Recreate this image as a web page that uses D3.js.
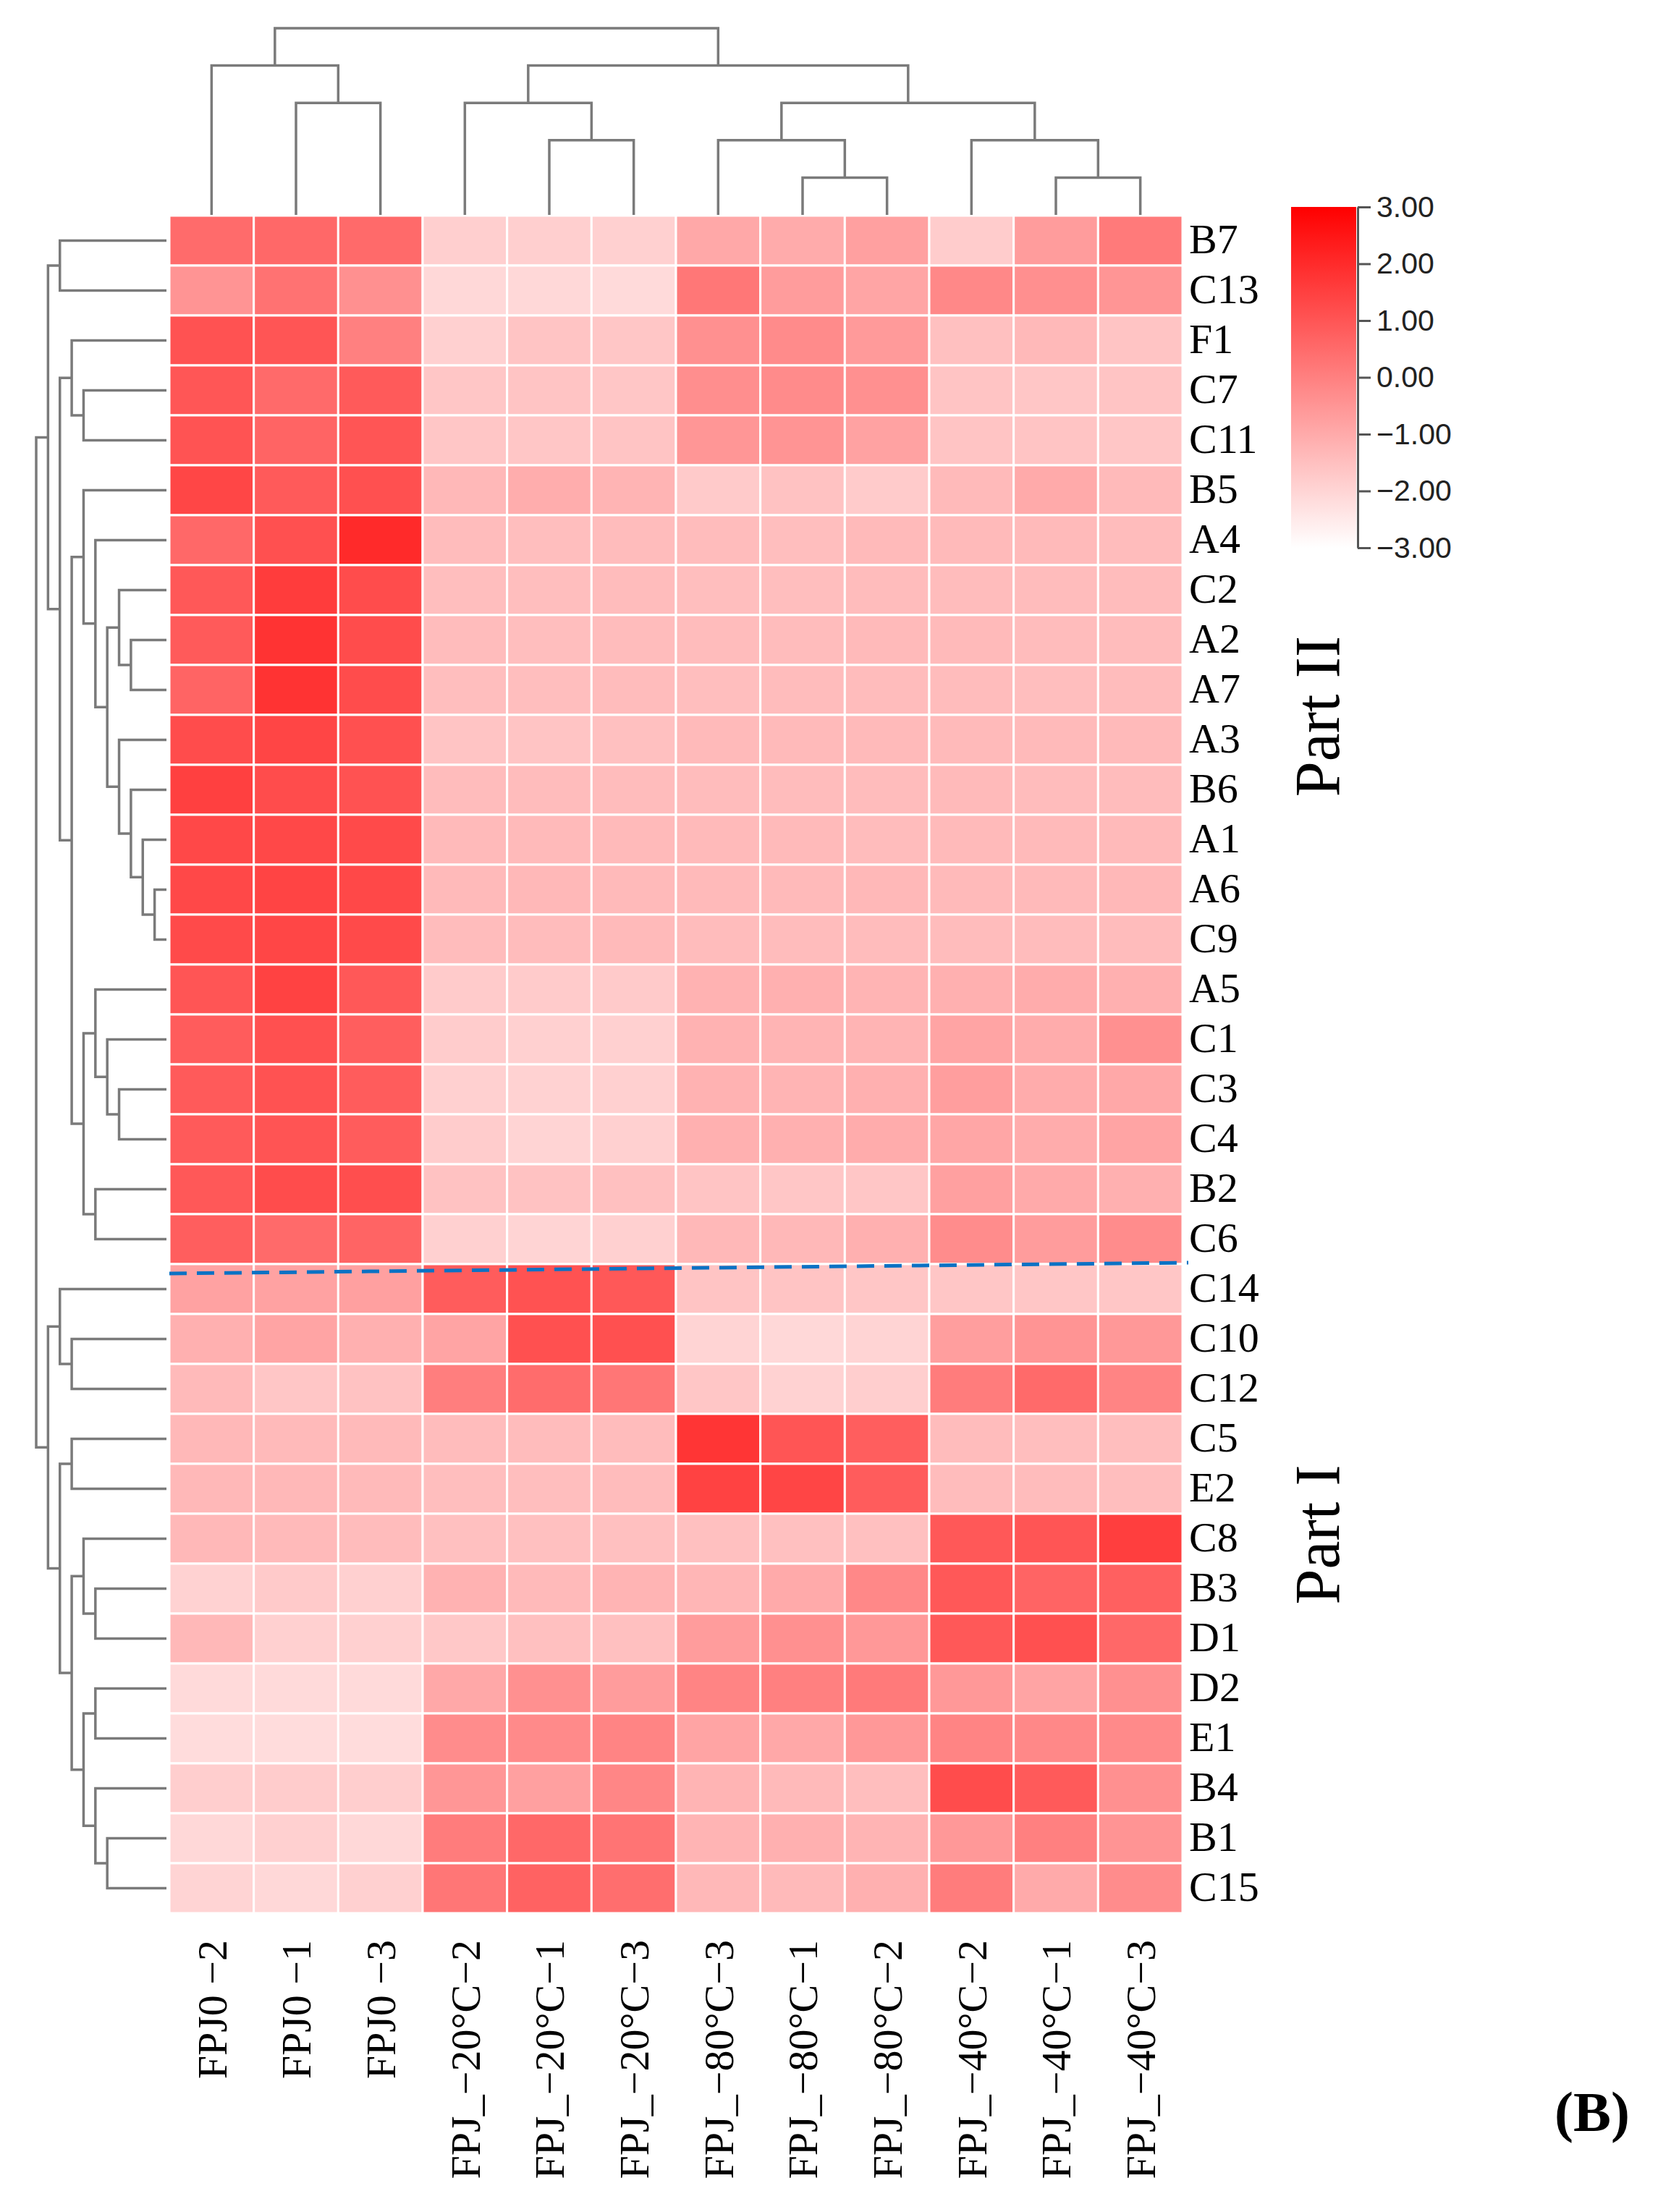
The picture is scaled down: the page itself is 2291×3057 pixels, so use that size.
<!DOCTYPE html>
<html lang="en">

<head>
    <meta charset="UTF-8">
    <title>Clustered heatmap</title>
    <script src="https://d3js.org/d3.v7.min.js"></script>
    <style>
        body { margin: 0; background: #fff; }
        text { font-family: "Liberation Serif", "Times New Roman", serif; }
    </style>
</head>

<body>
    <svg id="heatmap" width="2291" height="3057"></svg>

    <script>
        // Row and column names (in display order)
        const rowNames = ["B7", "C13", "F1", "C7", "C11", "B5", "A4", "C2", "A2", "A7", "A3", "B6", "A1", "A6", "C9",
            "A5", "C1", "C3", "C4", "B2", "C6", "C14", "C10", "C12", "C5", "E2", "C8", "B3", "D1", "D2", "E1", "B4", "B1", "C15"];
        const colNames = ["FPJ0 −2", "FPJ0 −1", "FPJ0 −3", "FPJ_−20°C−2", "FPJ_−20°C−1", "FPJ_−20°C−3",
            "FPJ_−80°C−3", "FPJ_−80°C−1", "FPJ_−80°C−2", "FPJ_−40°C−2", "FPJ_−40°C−1", "FPJ_−40°C−3"];

        // Scaled values, one array per row
        const values = [
            [0.48, 0.55, 0.5, -1.87, -1.87, -1.9, -0.95, -1.02, -0.76, -1.8, -0.67, 0.13],
            [-0.48, 0.31, -0.39, -2.08, -2.08, -2.13, 0.2, -0.67, -0.88, -0.2, -0.37, -0.5],
            [1.07, 1.0, 0.0, -1.9, -1.6, -1.66, -0.39, -0.27, -0.62, -1.52, -1.35, -1.6],
            [0.98, 0.5, 0.88, -1.66, -1.6, -1.66, -0.35, -0.27, -0.39, -1.6, -1.66, -1.6],
            [1.05, 0.64, 1.0, -1.66, -1.66, -1.6, -0.53, -0.48, -0.81, -1.6, -1.6, -1.66],
            [1.35, 0.88, 1.12, -1.33, -1.07, -1.24, -1.76, -1.57, -1.78, -1.38, -1.0, -1.38],
            [0.55, 1.12, 2.01, -1.42, -1.47, -1.42, -1.42, -1.47, -1.38, -1.38, -1.38, -1.42],
            [0.93, 1.59, 1.21, -1.47, -1.47, -1.42, -1.47, -1.47, -1.42, -1.42, -1.42, -1.42],
            [0.88, 1.8, 1.21, -1.42, -1.47, -1.42, -1.42, -1.42, -1.38, -1.38, -1.42, -1.42],
            [0.64, 1.8, 1.21, -1.47, -1.47, -1.42, -1.47, -1.42, -1.42, -1.42, -1.47, -1.42],
            [1.21, 1.38, 1.12, -1.6, -1.6, -1.52, -1.38, -1.38, -1.38, -1.38, -1.38, -1.38],
            [1.49, 1.21, 1.07, -1.42, -1.42, -1.42, -1.42, -1.42, -1.42, -1.38, -1.42, -1.42],
            [1.31, 1.31, 1.26, -1.38, -1.38, -1.38, -1.38, -1.38, -1.42, -1.38, -1.38, -1.38],
            [1.31, 1.4, 1.31, -1.38, -1.33, -1.38, -1.38, -1.38, -1.33, -1.38, -1.38, -1.33],
            [1.26, 1.35, 1.26, -1.42, -1.42, -1.38, -1.42, -1.42, -1.42, -1.42, -1.42, -1.42],
            [1.0, 1.45, 0.93, -1.78, -1.78, -1.76, -1.19, -1.14, -1.24, -1.14, -1.05, -1.14],
            [0.83, 1.12, 0.79, -1.8, -1.9, -1.9, -1.19, -1.24, -1.24, -0.86, -1.05, -0.39],
            [0.88, 1.07, 0.83, -1.9, -1.94, -1.9, -1.19, -1.24, -1.14, -0.72, -1.05, -0.95],
            [0.88, 1.02, 0.83, -1.8, -1.99, -1.9, -1.14, -1.14, -1.05, -0.9, -1.05, -0.86],
            [0.93, 1.21, 1.16, -1.57, -1.57, -1.52, -1.6, -1.66, -1.66, -0.76, -1.0, -1.14],
            [0.79, 0.5, 0.64, -1.9, -1.99, -1.9, -1.33, -1.33, -1.14, -0.29, -0.67, -0.29],
            [-0.81, -0.81, -0.76, 0.83, 1.07, 0.93, -1.6, -1.6, -1.66, -1.66, -1.66, -1.66],
            [-1.14, -0.86, -1.14, -0.86, 1.12, 1.12, -1.99, -2.08, -1.99, -0.72, -0.48, -0.58],
            [-1.38, -1.66, -1.57, 0.03, 0.46, 0.22, -1.66, -1.94, -1.85, 0.08, 0.5, -0.1],
            [-1.33, -1.38, -1.38, -1.42, -1.42, -1.42, 1.75, 1.0, 0.79, -1.42, -1.47, -1.47],
            [-1.33, -1.33, -1.38, -1.47, -1.47, -1.42, 1.45, 1.38, 0.83, -1.42, -1.42, -1.47],
            [-1.33, -1.38, -1.42, -1.52, -1.52, -1.52, -1.52, -1.52, -1.52, 0.93, 1.0, 1.54],
            [-1.94, -1.76, -1.89, -1.19, -1.38, -1.24, -1.28, -1.0, -0.2, 0.93, 0.64, 0.74],
            [-1.33, -1.89, -1.89, -1.71, -1.52, -1.52, -0.67, -0.39, -0.58, 0.93, 1.12, 0.55],
            [-2.13, -2.13, -2.13, -0.95, -0.39, -0.67, -0.1, 0.0, 0.13, -0.58, -0.86, -0.39],
            [-2.18, -2.18, -2.18, -0.29, -0.25, -0.1, -0.86, -0.95, -0.58, -0.1, -0.2, -0.25],
            [-1.85, -1.8, -1.85, -0.53, -0.76, -0.15, -1.24, -1.38, -1.47, 1.21, 0.88, -0.39],
            [-2.08, -1.89, -2.08, 0.08, 0.55, 0.27, -1.24, -1.14, -1.24, -0.58, 0.0, -0.48],
            [-1.99, -2.08, -1.89, 0.22, 0.69, 0.41, -1.33, -1.38, -1.14, 0.08, -1.0, -0.29]
        ];

        // Dendrograms as nested [height, left, right]; leaves are names
        const partTwoTree = [10, [9, "B7", "C13"],
            [9, [8, "F1", [7, "C7", "C11"]],
                [8, [7, "B5", [6, "A4", [5, [4, "C2", [3, "A2", "A7"]], [4, "A3", [3, "B6", [2, "A1", [1, "A6", "C9"]]]]]]],
                    [7, [6, "A5", [5, "C1", [4, "C3", "C4"]]], [6, "B2", "C6"]]]]];
        const partOneTree = [10, [9, "C14", [8, "C10", "C12"]],
            [9, [8, "C5", "E2"], [8, [7, "C8", [6, "B3", "D1"]], [7, [6, "D2", "E1"], [6, "B4", [5, "B1", "C15"]]]]]];
        const rowTree = [11, partTwoTree, partOneTree];
        const colTree = [5, [4, "FPJ0 −2", [3, "FPJ0 −1", "FPJ0 −3"]],
            [4, [3, "FPJ_−20°C−2", [2, "FPJ_−20°C−1", "FPJ_−20°C−3"]],
                [3, [2, "FPJ_−80°C−3", [1, "FPJ_−80°C−1", "FPJ_−80°C−2"]], [2, "FPJ_−40°C−2", [1, "FPJ_−40°C−1", "FPJ_−40°C−3"]]]]];

        // Colour bar ticks and group labels
        const legendTicks = [3, 2, 1, 0, -1, -2, -3];
        const partLabels = [{ text: "Part II", y: 990 }, { text: "Part I", y: 2121 }];

        const svg = d3.select("#heatmap");
        svg.append("rect").attr("width", 2291).attr("height", 3057).attr("fill", "#fff");

        // Scales
        const xScale = d3.scaleBand().domain(colNames).range([234, 1634]);
        const yScale = d3.scaleBand().domain(rowNames).range([298, 2644]);
        const color = d3.scaleLinear().domain([-3, 3]).range(["#ffffff", "#ff0000"]);
        const rowHeight = d3.scaleLinear().domain([0, 11]).range([230, 50]);
        const colHeight = d3.scaleLinear().domain([0, 5]).range([297, 39]);

        // Heatmap cells
        const cells = [];
        values.forEach((row, i) => row.forEach((v, j) => cells.push({ r: rowNames[i], c: colNames[j], v: v })));
        svg.append("g")
            .selectAll("rect")
            .data(cells)
            .join("rect")
            .attr("x", d => xScale(d.c))
            .attr("y", d => yScale(d.r))
            .attr("width", xScale.bandwidth())
            .attr("height", yScale.bandwidth())
            .attr("fill", d => color(d.v))
            .attr("stroke", "#fff")
            .attr("stroke-width", 3);

        // Build a hierarchy and work out leaf / node positions
        function layout(tree, band) {
            const root = d3.hierarchy(tree, d => Array.isArray(d) ? d.slice(1) : null);
            root.eachAfter(n => {
                if (n.children) {
                    n.h = n.data[0];
                    n.pos = d3.mean(n.children, c => c.pos);
                } else {
                    n.h = 0;
                    n.pos = band(n.data) + band.bandwidth() / 2;
                }
            });
            return root.descendants().filter(n => n.children);
        }

        // Row dendrogram (left)
        svg.append("g")
            .selectAll("path")
            .data(layout(rowTree, yScale))
            .join("path")
            .attr("fill", "none")
            .attr("stroke", "#7a7a7a")
            .attr("stroke-width", 3.5)
            .attr("d", n => {
                const [a, b] = n.children;
                return `M${rowHeight(a.h)},${a.pos}H${rowHeight(n.h)}V${b.pos}H${rowHeight(b.h)}`;
            });

        // Column dendrogram (top)
        svg.append("g")
            .selectAll("path")
            .data(layout(colTree, xScale))
            .join("path")
            .attr("fill", "none")
            .attr("stroke", "#7a7a7a")
            .attr("stroke-width", 3.5)
            .attr("d", n => {
                const [a, b] = n.children;
                return `M${a.pos},${colHeight(a.h)}V${colHeight(n.h)}H${b.pos}V${colHeight(b.h)}`;
            });

        // Row labels
        svg.append("g")
            .selectAll("text")
            .data(rowNames)
            .join("text")
            .attr("x", 1643)
            .attr("y", d => yScale(d) + yScale.bandwidth() / 2)
            .attr("dy", "0.3em")
            .style("font-size", "58px")
            .text(d => d);

        // Column labels (rotated)
        svg.append("g")
            .selectAll("text")
            .data(colNames)
            .join("text")
            .attr("transform", d => `translate(${xScale(d) + xScale.bandwidth() / 2},2681) rotate(-90)`)
            .attr("text-anchor", "end")
            .attr("dy", "0.35em")
            .style("font-size", "58px")
            .text(d => d);

        // Dashed separator between Part II and Part I
        const sepY = yScale("C14");
        svg.append("line")
            .attr("x1", xScale.range()[0])
            .attr("y1", sepY + 13)
            .attr("x2", xScale.range()[1] + 8)
            .attr("y2", sepY - 2)
            .attr("stroke", "#0b72c4")
            .attr("stroke-width", 5)
            .attr("stroke-dasharray", "24,14");

        // Part labels
        svg.append("g")
            .selectAll("text")
            .data(partLabels)
            .join("text")
            .attr("transform", d => `translate(1850,${d.y}) rotate(-90)`)
            .attr("text-anchor", "middle")
            .style("font-size", "88px")
            .text(d => d.text);

        // Colour bar
        const legendScale = d3.scaleLinear().domain([-3, 3]).range([757, 286]);
        const grad = svg.append("defs").append("linearGradient")
            .attr("id", "legend-grad")
            .attr("x1", 0).attr("y1", 1).attr("x2", 0).attr("y2", 0);
        grad.selectAll("stop")
            .data([-3, 0, 3])
            .join("stop")
            .attr("offset", d => (d + 3) / 6)
            .attr("stop-color", d => color(d));

        svg.append("rect")
            .attr("x", 1784)
            .attr("y", legendScale(3))
            .attr("width", 90)
            .attr("height", legendScale(-3) - legendScale(3))
            .attr("fill", "url(#legend-grad)");

        const legendAxis = svg.append("g")
            .attr("transform", "translate(1876,0)")
            .call(d3.axisRight(legendScale)
                .tickValues(legendTicks)
                .tickFormat(d3.format(".2f"))
                .tickSize(18)
                .tickSizeOuter(0)
                .tickPadding(8));
        legendAxis.select(".domain").attr("stroke", "#555").attr("stroke-width", 3);
        legendAxis.selectAll(".tick line").attr("stroke", "#555").attr("stroke-width", 3);
        legendAxis.selectAll(".tick text")
            .style("font-family", "'Liberation Sans', Arial, sans-serif")
            .style("font-size", "41px")
            .attr("fill", "#222");

        // Panel letter
        svg.append("text")
            .attr("x", 2200)
            .attr("y", 2945)
            .attr("text-anchor", "middle")
            .style("font-size", "78px")
            .style("font-weight", "bold")
            .text("(B)");
    </script>
</body>

</html>
